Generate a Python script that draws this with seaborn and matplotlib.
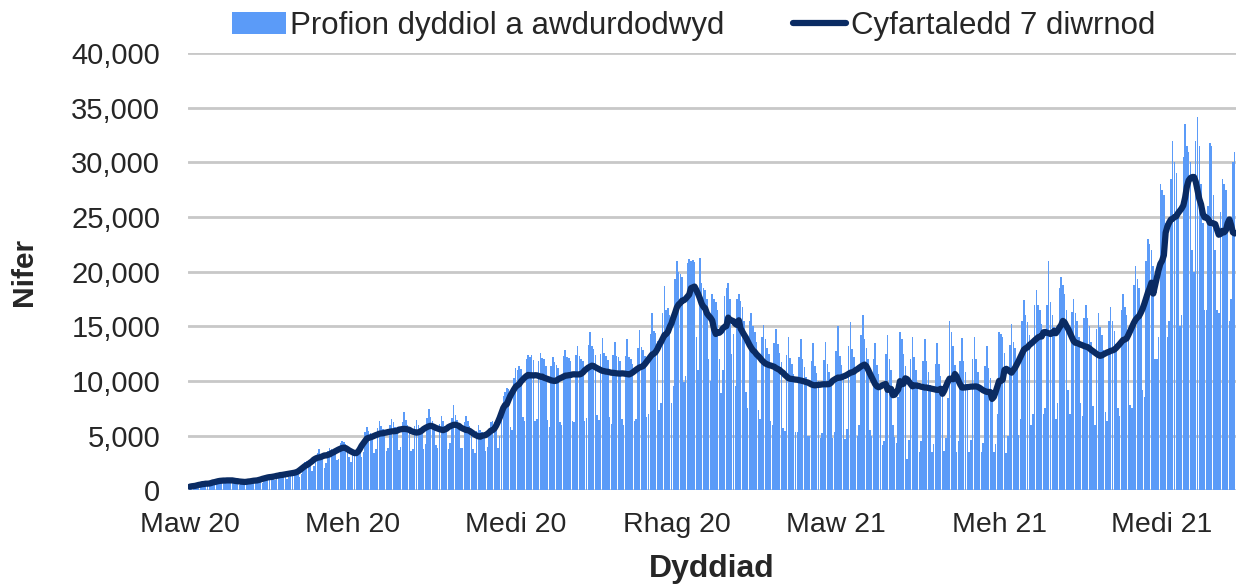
import pandas as pd
import matplotlib.pyplot as plt
import matplotlib.dates as mdates
from matplotlib.ticker import FuncFormatter
import seaborn as sns

# profion dyddiol (miloedd), wythnos Sul-Sadwrn, o 1 Mawrth 2020
wythnosau = [
    [0.2, 0.3, 0.4, 0.4, 0.5, 0.5, 0.5],
    [0.5, 0.6, 0.6, 0.7, 0.6, 0.7, 0.5],
    [0.6, 0.9, 1.0, 0.9, 0.9, 1.0, 0.7],
    [0.7, 1.0, 1.0, 1.0, 0.9, 1.0, 0.7],
    [0.5, 0.8, 0.9, 0.8, 0.8, 0.9, 0.6],
    [0.6, 1.0, 1.0, 1.0, 1.0, 1.0, 0.7],
    [0.9, 1.3, 1.4, 1.3, 1.3, 1.3, 0.9],
    [1.0, 1.5, 1.6, 1.6, 1.5, 1.6, 1.0],
    [1.2, 1.7, 1.8, 1.8, 1.7, 1.8, 1.2],
    [1.5, 2.2, 2.6, 2.7, 2.6, 2.7, 1.8],
    [2.2, 3.1, 3.4, 3.8, 3.3, 3.2, 2.0],
    [2.5, 3.6, 3.9, 3.8, 3.7, 3.5, 2.8],
    [2.9, 4.3, 4.5, 4.4, 4.2, 4.0, 3.0],
    [2.6, 3.6, 3.7, 3.8, 3.6, 3.5, 3.0],
    [3.5, 5.3, 5.8, 5.4, 5.2, 5.0, 3.4],
    [3.8, 5.7, 6.3, 5.9, 5.6, 5.5, 3.6],
    [3.9, 6.0, 6.5, 6.2, 5.8, 5.7, 3.7],
    [4.0, 6.2, 7.2, 6.4, 6.0, 5.8, 3.6],
    [3.8, 5.9, 6.4, 6.0, 5.7, 5.5, 3.8],
    [4.2, 6.6, 7.4, 6.7, 6.3, 6.0, 4.1],
    [3.9, 6.1, 6.8, 6.3, 5.9, 5.7, 3.8],
    [4.3, 6.6, 7.8, 6.9, 6.4, 6.1, 3.9],
    [3.9, 6.2, 6.8, 6.3, 5.9, 5.6, 3.8],
    [3.4, 5.4, 6.0, 5.5, 5.3, 5.1, 3.6],
    [4.0, 5.6, 6.2, 6.3, 6.2, 6.3, 3.9],
    [5.0, 7.5, 8.6, 9.0, 9.4, 9.3, 5.8],
    [5.5, 10.3, 11.2, 11.0, 11.4, 11.1, 6.7],
    [6.3, 12.0, 12.4, 12.2, 12.4, 11.9, 6.3],
    [6.5, 11.8, 12.6, 12.1, 12.0, 11.4, 6.4],
    [5.8, 11.4, 12.2, 11.7, 11.5, 11.2, 6.2],
    [6.0, 12.3, 12.8, 12.2, 12.1, 11.8, 6.3],
    [6.2, 12.4, 13.2, 12.3, 12.0, 11.8, 6.3],
    [6.6, 13.3, 14.5, 13.2, 12.9, 12.4, 6.9],
    [6.4, 12.5, 13.9, 12.6, 12.3, 11.9, 6.7],
    [6.1, 12.4, 13.6, 12.3, 12.2, 11.8, 6.5],
    [6.0, 12.3, 13.8, 12.2, 12.0, 11.6, 6.3],
    [6.5, 13.0, 14.7, 13.1, 12.8, 12.3, 6.7],
    [7.0, 14.3, 16.2, 14.6, 14.4, 13.7, 7.3],
    [8.0, 16.2, 18.7, 16.5, 16.7, 16.0, 8.0],
    [9.5, 19.3, 21.0, 20.0, 19.8, 19.5, 9.9],
    [10.5, 20.8, 21.2, 21.0, 21.1, 20.9, 14.0],
    [11.0, 21.3, 19.0, 18.5, 18.3, 17.5, 12.0],
    [10.0, 18.0, 17.5, 17.2, 16.5, 12.0, 8.9],
    [11.0, 17.8, 18.5, 19.0, 17.5, 12.5, 14.3],
    [9.5, 17.5, 18.0, 17.3, 16.8, 15.5, 9.0],
    [7.5, 15.5, 16.2, 15.0, 14.5, 13.6, 7.3],
    [6.5, 14.0, 15.1, 13.8, 13.0, 12.5, 6.3],
    [6.0, 13.5, 14.8, 13.4, 12.6, 11.7, 5.7],
    [5.4, 12.4, 14.0, 12.1, 11.6, 10.6, 5.3],
    [5.3, 12.2, 13.8, 12.0, 11.3, 10.4, 5.0],
    [5.0, 11.8, 13.5, 11.4, 10.7, 10.0, 4.8],
    [5.2, 11.9, 13.6, 11.6, 10.8, 10.0, 4.8],
    [5.3, 12.7, 15.0, 12.3, 11.5, 10.6, 4.7],
    [5.6, 13.2, 15.4, 12.9, 12.2, 11.3, 5.0],
    [6.0, 14.2, 16.0, 13.8, 13.0, 12.0, 5.5],
    [5.0, 12.0, 13.5, 11.5, 10.6, 9.8, 4.1],
    [4.5, 12.5, 14.2, 12.0, 11.0, 6.0, 4.9],
    [4.3, 8.5, 14.5, 13.8, 12.5, 11.4, 2.9],
    [4.6, 12.0, 14.0, 12.2, 11.0, 9.9, 3.5],
    [4.5, 11.8, 13.8, 11.8, 10.8, 9.6, 3.5],
    [4.2, 11.6, 13.5, 11.6, 10.5, 9.4, 3.6],
    [4.8, 8.4, 15.5, 14.5, 13.2, 11.5, 3.5],
    [4.5, 11.8, 13.9, 11.8, 10.8, 9.5, 3.5],
    [4.6, 12.0, 14.0, 12.0, 10.8, 9.6, 3.5],
    [4.3, 11.4, 13.2, 11.2, 10.3, 9.1, 3.5],
    [4.2, 7.0, 14.5, 14.3, 14.0, 12.6, 3.4],
    [5.0, 13.3, 15.2, 13.6, 13.0, 11.8, 5.1],
    [6.5, 15.5, 17.4, 16.0, 15.4, 14.2, 6.0],
    [7.0, 17.0, 18.3, 17.0, 16.5, 15.2, 7.0],
    [7.5, 17.0, 21.0, 17.2, 16.0, 14.9, 6.5],
    [8.0, 18.5, 19.5, 18.8, 18.0, 16.5, 9.2],
    [7.0, 16.3, 17.5, 16.2, 15.5, 14.0, 8.0],
    [6.8, 15.8, 17.0, 15.8, 15.0, 13.6, 7.7],
    [6.0, 14.8, 16.2, 14.9, 14.2, 12.8, 7.2],
    [6.3, 15.5, 16.8, 15.5, 14.6, 13.4, 7.5],
    [6.8, 16.5, 18.0, 16.8, 16.0, 14.7, 7.8],
    [7.5, 18.8, 20.5, 19.3, 18.5, 16.8, 9.2],
    [8.5, 21.0, 23.0, 22.5, 22.0, 20.5, 12.0],
    [12.0, 14.0, 28.0, 27.5, 27.0, 24.5, 14.0],
    [15.5, 28.5, 32.0, 30.0, 29.0, 25.0, 15.0],
    [16.0, 30.5, 33.5, 31.5, 31.0, 30.0, 22.0],
    [20.0, 32.0, 34.2, 31.5, 28.0, 24.5, 16.5],
    [16.5, 26.0, 31.8, 31.5, 27.0, 22.0, 16.5],
    [16.2, 25.5, 28.5, 28.0, 27.5, 24.0, 15.5],
    [17.5, 30.0, 31.0],
]

tick_dates = ['2020-03-01', '2020-06-01', '2020-09-01', '2020-12-01',
              '2021-03-01', '2021-06-01', '2021-09-01']
tick_labels = ['Maw 20', 'Meh 20', 'Medi 20', 'Rhag 20', 'Maw 21', 'Meh 21', 'Medi 21']

profion = [v * 1000 for w in wythnosau for v in w]
dyddiad = pd.date_range('2020-03-01', periods=len(profion), freq='D')
df = pd.DataFrame({'dyddiad': dyddiad, 'profion': profion})
df['x'] = mdates.date2num(df['dyddiad'])
df['cyfartaledd'] = df['profion'].rolling(7, center=True, min_periods=1).mean()

sns.set_style('white')
plt.rcParams['font.family'] = ['Liberation Sans', 'DejaVu Sans']

fig, ax = plt.subplots(figsize=(12.37, 5.85), dpi=100)
fig.subplots_adjust(left=0.152, right=0.999, top=0.909, bottom=0.162)

sns.barplot(data=df, x='x', y='profion', native_scale=True, color='#5B9BF8',
            saturation=1, width=0.85, linewidth=0, ax=ax,
            label='Profion dyddiol a awdurdodwyd')
sns.lineplot(data=df, x='x', y='cyfartaledd', color='#0A2B63', linewidth=4.5,
             ax=ax, label='Cyfartaledd 7 diwrnod')

ax.set_ylim(0, 40000)
ax.set_yticks(range(0, 40001, 5000))
ax.yaxis.set_major_formatter(FuncFormatter(lambda v, p: f'{int(v):,}'))
ax.set_xlim(df['x'].iloc[0] - 1, df['x'].iloc[-1] + 0.6)
ax.set_xticks(mdates.date2num(pd.to_datetime(tick_dates)))
ax.set_xticklabels(tick_labels)
ax.tick_params(axis='both', length=0)
ax.tick_params(axis='y', labelsize=21, pad=20)
ax.tick_params(axis='x', labelsize=20.5, pad=16)
ax.grid(axis='y', color='#c8c8c8', linewidth=2)
ax.set_axisbelow(True)
sns.despine(ax=ax, left=True, bottom=True)

ax.set_xlabel('Dyddiad', fontsize=23, fontweight='bold', labelpad=11)
ax.set_ylabel('Nifer', fontsize=21.5, fontweight='bold', labelpad=24)

handles, labels = ax.get_legend_handles_labels()
ax.get_legend().remove()
order = [labels.index('Profion dyddiol a awdurdodwyd'), labels.index('Cyfartaledd 7 diwrnod')]
fig.legend([handles[i] for i in order], [labels[i] for i in order],
           loc='upper center', bbox_to_anchor=(0.561, 1.03),
           ncol=2, frameon=False, fontsize=22.5, handlelength=1.7,
           handletextpad=0.15, columnspacing=2.2)

fig.savefig('out.png', dpi=100)
